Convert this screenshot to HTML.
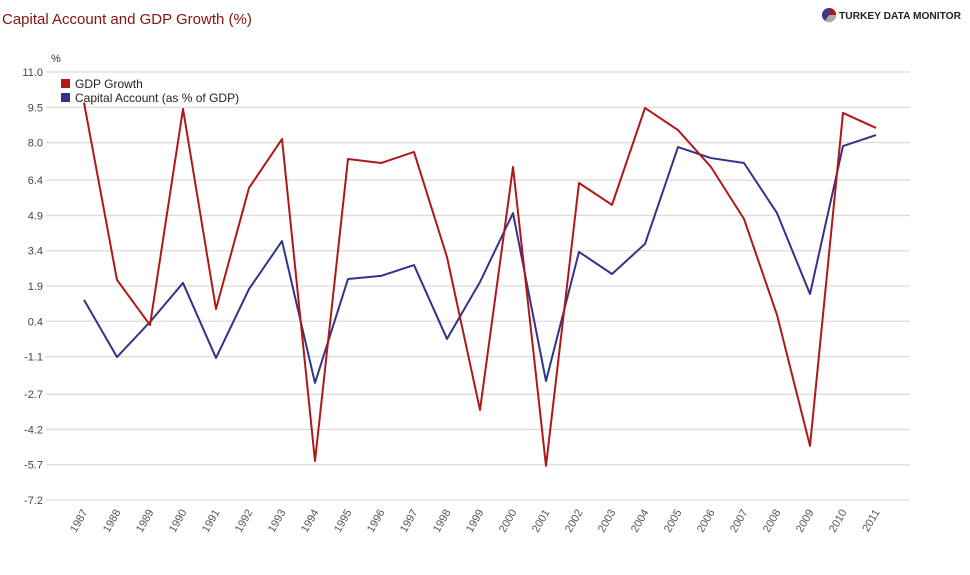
<!DOCTYPE html>
<html><head><meta charset="utf-8"><style>
body{margin:0;background:#fff;font-family:"Liberation Sans",Arial,sans-serif;}
</style></head><body>
<svg width="970" height="570" xmlns="http://www.w3.org/2000/svg">
<text x="2" y="24" font-size="15" fill="#8b1010">Capital Account and GDP Growth (%)</text>
<g>
<circle cx="829" cy="15" r="7" fill="#3a3a8c"/><path d="M829 15 L829 8 A7 7 0 0 1 836 15 Z" fill="#b01818"/><path d="M829 15 L836 15 A7 7 0 0 1 825 21 Z" fill="#aaa"/>
<text x="839" y="19" font-size="10.5" font-weight="bold" fill="#222" textLength="122" lengthAdjust="spacingAndGlyphs">TURKEY DATA MONITOR</text></g>
<text x="51" y="62" font-size="11" fill="#333">%</text>
<g id="grid"></g><g id="ylabels"></g><g id="xlabels"></g><g id="lines"></g>
<g>
<rect x="61" y="79" width="9" height="9" fill="#b01818"/>
<text x="75" y="88" font-size="12" fill="#222">GDP Growth</text>
<rect x="61" y="93" width="9" height="9" fill="#33338a"/>
<text x="75" y="102" font-size="12" fill="#222">Capital Account (as % of GDP)</text>
</g>
</svg>
<script>
const years=["1987","1988","1989","1990","1991","1992","1993","1994","1995","1996","1997","1998","1999","2000","2001","2002","2003","2004","2005","2006","2007","2008","2009","2010","2011"];
const gdp=[9.7,2.16,0.24,9.43,0.92,6.07,8.15,-5.54,7.3,7.13,7.6,3.13,-3.37,6.96,-5.75,6.28,5.35,9.47,8.53,6.96,4.75,0.67,-4.9,9.26,8.62];
const capital=[1.31,-1.12,0.37,2.03,-1.16,1.77,3.81,-2.22,2.2,2.33,2.79,-0.35,2.07,5.0,-2.14,3.35,2.41,3.69,7.81,7.34,7.13,5.0,1.56,7.85,8.32];
const yTicks=["11.0","9.5","8.0","6.4","4.9","3.4","1.9","0.4","-1.1","-2.7","-4.2","-5.7","-7.2"];
const yMax=11,yMin=-7.2,plotTop=72,plotBot=500,x0=84,x1=876;
const ns="http://www.w3.org/2000/svg";
const Y=v=>plotTop+(yMax-v)*(plotBot-plotTop)/(yMax-yMin);
const X=i=>x0+i*(x1-x0)/(years.length-1);
function mk(t,a,p){const e=document.createElementNS(ns,t);for(const k in a)e.setAttribute(k,a[k]);p.appendChild(e);return e;}
const grid=document.getElementById('grid'),yl=document.getElementById('ylabels'),xl=document.getElementById('xlabels'),ln=document.getElementById('lines');
yTicks.forEach(t=>{const y=Y(parseFloat(t));
const g=mk('line',{x1:46,x2:910,y1:y,y2:y,stroke:'#dcdcdc','stroke-width':1.3},grid);


const l=mk('text',{x:43,y:y+4,'font-size':11,fill:'#444','text-anchor':'end'},yl);l.textContent=t;

});
years.forEach((yr,i)=>{const x=X(i);
const t=mk('text',{x:x+4,y:512,'font-size':11,fill:'#555','text-anchor':'end',transform:`rotate(-60 ${x+4} 512)`},xl);t.textContent=yr;

});
function line(d,c,name){const p=mk('polyline',{points:d.map((v,i)=>X(i)+','+Y(v)).join(' '),fill:'none',stroke:c,'stroke-width':2,'stroke-linejoin':'round'},ln);

}
line(capital,'#33338a','capital-account-line');
line(gdp,'#b01818','gdp-growth-line');
</script>
</body></html>
